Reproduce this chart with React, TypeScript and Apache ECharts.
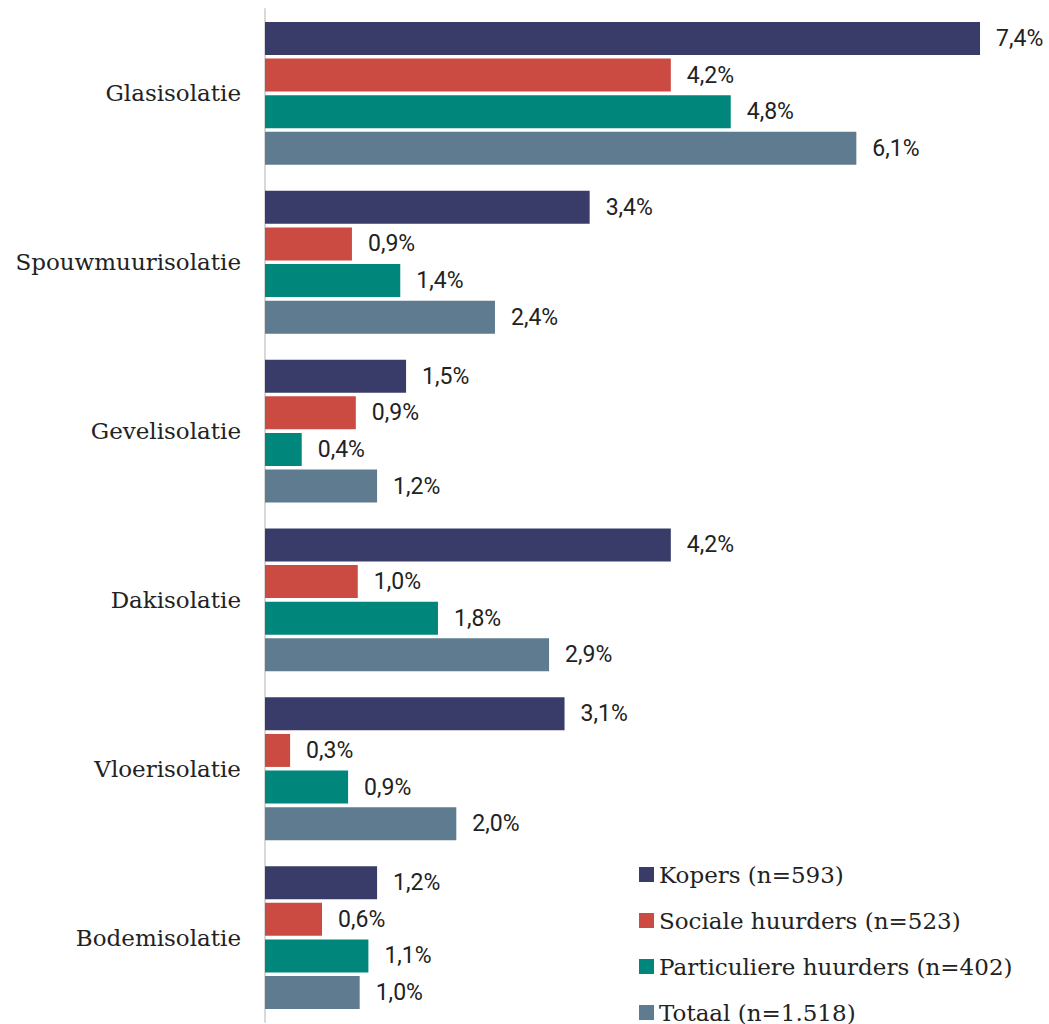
import React, { useEffect, useRef } from "react";
import * as echarts from "echarts";

const categories = [
  "Glasisolatie",
  "Spouwmuurisolatie",
  "Gevelisolatie",
  "Dakisolatie",
  "Vloerisolatie",
  "Bodemisolatie",
];
const seriesNames = [
  "Kopers (n=593)",
  "Sociale huurders (n=523)",
  "Particuliere huurders (n=402)",
  "Totaal (n=1.518)",
];
const kopers = [7.4, 3.36, 1.46, 4.2, 3.1, 1.16];
const socialeHuurders = [4.2, 0.9, 0.94, 0.96, 0.26, 0.59];
const particuliereHuurders = [4.82, 1.4, 0.38, 1.79, 0.86, 1.07];
const totaal = [6.12, 2.38, 1.16, 2.94, 1.98, 0.98];
const colors = ["#393C68", "#CB4B43", "#00867B", "#5F7B8F"];

export default function App() {
  const ref = useRef<HTMLDivElement>(null);
  useEffect(() => {
    if (!ref.current) return;
    const chart = echarts.init(ref.current, undefined, { renderer: "svg" });
    const values = [kopers, socialeHuurders, particuliereHuurders, totaal];
    chart.setOption({
      animation: false,
      grid: { left: 265, top: 9, width: 773, height: 1013, containLabel: false },
      legend: {
        orient: "vertical",
        left: 634,
        top: 858,
        height: 300,
        icon: "rect",
        itemWidth: 15,
        itemHeight: 15,
        itemGap: 23,
        textStyle: {
          fontFamily: "DejaVu Serif",
          fontSize: 23,
          color: "#222",
          lineHeight: 23,
        },
        data: seriesNames,
      },
      xAxis: { type: "value", min: 0, max: 8, show: false },
      yAxis: {
        type: "category",
        inverse: true,
        data: categories,
        axisTick: { show: false },
        axisLine: { show: true, lineStyle: { color: "#d9d9d9", width: 2 } },
        axisLabel: {
          margin: 24,
          fontFamily: "DejaVu Serif",
          fontSize: 23,
          color: "#222",
        },
      },
      series: seriesNames.map((name, i) => ({
        name,
        type: "bar",
        data: values[i],
        barWidth: 33,
        barGap: "11%",
        itemStyle: { color: colors[i] },
        label: {
          show: true,
          position: "right",
          distance: 16,
          fontFamily: "Roboto",
          fontSize: 23,
          color: "#222",
          formatter: (p: any) => p.value.toFixed(1).replace(".", ",") + "%",
        },
      })),
    });
    return () => chart.dispose();
  }, []);
  return (
    <div
      ref={ref}
      style={{ position: "absolute", left: 0, top: 0, width: 1049, height: 1024 }}
    />
  );
}
